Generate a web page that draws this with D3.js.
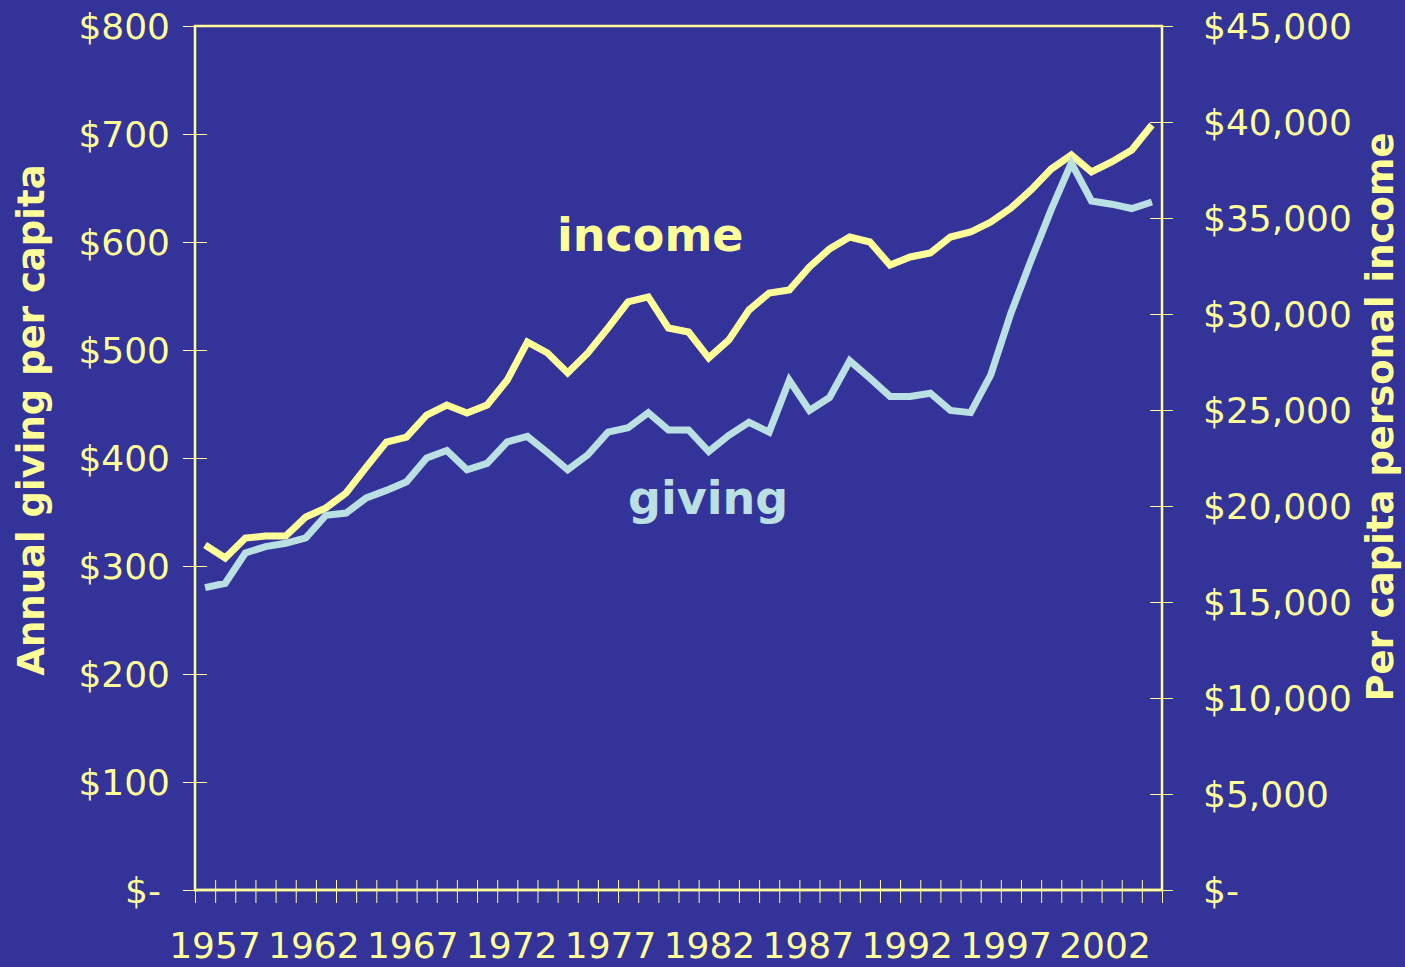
<!DOCTYPE html>
<html lang="en">
  <head>
    <meta charset="UTF-8" />
    <title>Annual giving vs per capita personal income</title>
    <script src="https://d3js.org/d3.v7.min.js"></script>
    <style>
      body {
        margin: 0;
        background-color: #333399;
      }
      svg {
        display: block;
      }
      .axis text {
        fill: #ffff99;
        font-family: "DejaVu Sans", sans-serif;
        font-size: 36px;
      }
      .axis line {
        stroke: #ffff99;
        stroke-width: 1px;
      }
      .axis-title {
        fill: #ffff99;
        font-family: "DejaVu Sans", sans-serif;
        font-weight: bold;
        font-size: 37px;
        text-anchor: middle;
      }
      .series-label {
        font-family: "DejaVu Sans", sans-serif;
        font-weight: bold;
        font-size: 46px;
      }
    </style>
  </head>
  <body>
    <svg id="chart"></svg>

    <script>
      const years = [
        1957, 1958, 1959, 1960, 1961, 1962, 1963, 1964, 1965, 1966,
        1967, 1968, 1969, 1970, 1971, 1972, 1973, 1974, 1975, 1976,
        1977, 1978, 1979, 1980, 1981, 1982, 1983, 1984, 1985, 1986,
        1987, 1988, 1989, 1990, 1991, 1992, 1993, 1994, 1995, 1996,
        1997, 1998, 1999, 2000, 2001, 2002, 2003, 2004
      ];
      // annual giving per capita ($, left axis)
      const giving = [
        280, 284, 312, 318, 321, 326, 347, 349, 363, 370,
        378, 400, 407, 389, 395, 415, 420, 405, 389, 403,
        424, 428, 442, 426, 426, 406, 421, 433, 424, 472,
        444, 456, 490, 474, 457, 457, 460, 444, 442, 477,
        534, 583, 630, 673, 638, 635, 631, 637
      ];
      // per capita personal income ($, right axis)
      const income = [
        17970, 17290, 18330, 18440, 18440, 19430, 19900, 20680, 22030, 23330,
        23590, 24740, 25260, 24840, 25260, 26560, 28540, 27970, 26930, 27970,
        29270, 30630, 30890, 29270, 29060, 27710, 28650, 30210, 31090, 31250,
        32450, 33390, 34010, 33750, 32550, 32970, 33180, 34010, 34270, 34790,
        35520, 36460, 37550, 38280, 37400, 37920, 38540, 39840
      ];
      const yearLabels = ["1957", "1962", "1967", "1972", "1977", "1982", "1987", "1992", "1997", "2002"];
      const leftTicks = [0, 100, 200, 300, 400, 500, 600, 700, 800];
      const rightTicks = [0, 5000, 10000, 15000, 20000, 25000, 30000, 35000, 40000, 45000];

      const width = 1405;
      const height = 967;
      const margin = { top: 26, right: 243, bottom: 77, left: 195 };
      const x0 = margin.left;
      const x1 = width - margin.right;
      const y0 = height - margin.bottom;
      const y1 = margin.top;

      const yellow = "#ffff99";
      const blue = "#bbe0e3";

      const svg = d3.select("#chart").attr("width", width).attr("height", height);

      // scales: each year sits in the middle of its slot
      const x = d3.scaleLinear().domain([years[0] - 0.5, years[years.length - 1] + 0.5]).range([x0, x1]);
      const yLeft = d3.scaleLinear().domain([0, 800]).range([y0, y1]);
      const yRight = d3.scaleLinear().domain([0, 45000]).range([y0, y1]);
      const xLabel = d3.scalePoint().domain(yearLabels).range([x0 + 20, x1 - 57]);

      // frame
      svg.append("rect")
        .attr("x", x0).attr("y", y1)
        .attr("width", x1 - x0).attr("height", y0 - y1)
        .attr("fill", "none")
        .attr("stroke", yellow)
        .attr("stroke-width", 2.5);

      // left axis
      const gl = svg.append("g")
        .attr("class", "axis")
        .attr("transform", `translate(${x0},0)`)
        .call(d3.axisLeft(yLeft).tickValues(leftTicks).tickSize(12).tickPadding(13)
          .tickFormat((d) => (d === 0 ? "$-" : "$" + d)));
      gl.select(".domain").remove();
      gl.selectAll(".tick line").attr("x1", 12);
      gl.selectAll("text").attr("font-size", null).attr("font-family", null)
        .attr("dy", "0.36em").attr("dx", (d) => (d === 0 ? -9 : 0));

      // right axis
      const gr = svg.append("g")
        .attr("class", "axis")
        .attr("transform", `translate(${x1},0)`)
        .call(d3.axisRight(yRight).tickValues(rightTicks).tickSize(11).tickPadding(30)
          .tickFormat((d) => (d === 0 ? "$-" : d3.format("$,")(d))));
      gr.select(".domain").remove();
      gr.selectAll(".tick line").attr("x1", -12);
      gr.selectAll("text").attr("dy", "0.36em");

      // bottom ticks on the slot boundaries
      const bounds = years.map((d) => d - 0.5).concat([years[years.length - 1] + 0.5]);
      const gb = svg.append("g")
        .attr("class", "axis")
        .attr("transform", `translate(0,${y0})`)
        .call(d3.axisBottom(x).tickValues(bounds).tickSize(13).tickFormat(""));
      gb.select(".domain").remove();
      gb.selectAll(".tick line").attr("y1", -10);

      // baseline
      svg.append("line")
        .attr("x1", x0).attr("x2", x1)
        .attr("y1", y0).attr("y2", y0)
        .attr("stroke", yellow).attr("stroke-width", 2.5);

      // year labels
      svg.append("g")
        .attr("class", "axis")
        .selectAll("text")
        .data(yearLabels)
        .enter()
        .append("text")
        .attr("x", (d) => xLabel(d))
        .attr("y", 958)
        .attr("text-anchor", "middle")
        .text((d) => d);

      // axis titles
      svg.append("text")
        .attr("class", "axis-title")
        .attr("transform", "translate(44,420) rotate(-90)")
        .text("Annual giving per capita");

      svg.append("text")
        .attr("class", "axis-title")
        .attr("transform", "translate(1393,417) rotate(-90)")
        .text("Per capita personal income");

      // lines
      const incomeLine = d3.line()
        .x((d, i) => x(years[i]))
        .y((d) => yRight(d));
      const givingLine = d3.line()
        .x((d, i) => x(years[i]))
        .y((d) => yLeft(d));

      svg.append("path")
        .datum(income)
        .attr("fill", "none")
        .attr("stroke", yellow)
        .attr("stroke-width", 7)
        .attr("d", incomeLine);

      svg.append("path")
        .datum(giving)
        .attr("fill", "none")
        .attr("stroke", blue)
        .attr("stroke-width", 7)
        .attr("d", givingLine);

      // series labels
      svg.append("text")
        .attr("class", "series-label")
        .attr("x", 557).attr("y", 251)
        .attr("fill", yellow)
        .text("income");

      svg.append("text")
        .attr("class", "series-label")
        .attr("x", 628).attr("y", 514)
        .attr("fill", blue)
        .text("giving");
    </script>
  </body>
</html>
